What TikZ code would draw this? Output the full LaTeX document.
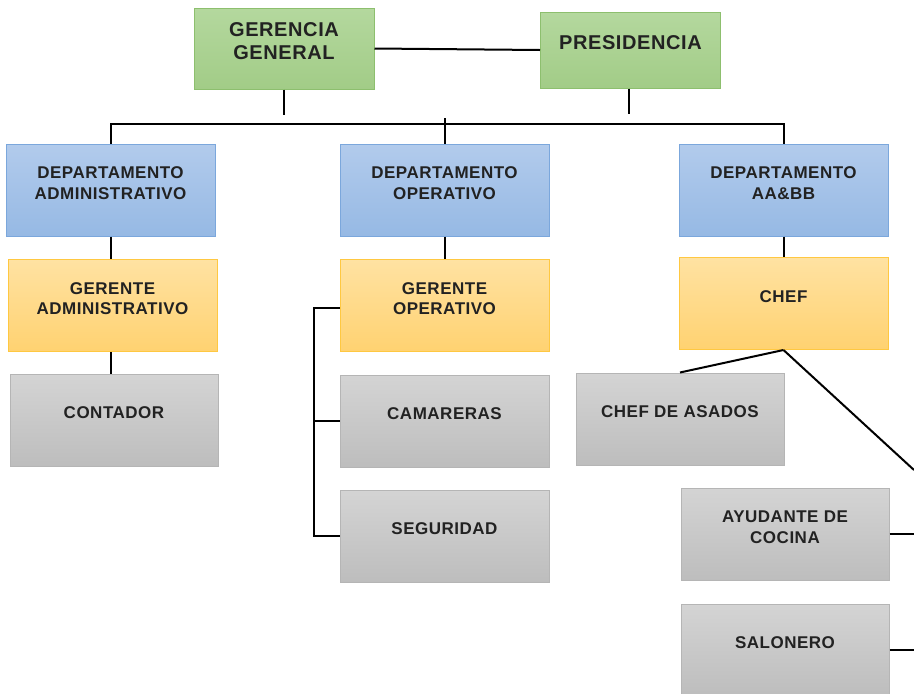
\documentclass[tikz,border=0pt]{standalone}
\usepackage{fontspec}
\setmainfont[LetterSpace=3]{Liberation Sans}
\usepackage{tikz}

\definecolor{txtdark}{HTML}{222222}
\definecolor{greentop}{HTML}{B4D89E}
\definecolor{greenbot}{HTML}{A2CC87}
\definecolor{greenline}{HTML}{8DBF6E}
\definecolor{bluetop}{HTML}{B2CBEC}
\definecolor{bluebot}{HTML}{96B9E4}
\definecolor{blueline}{HTML}{7BA7DC}
\definecolor{yellowtop}{HTML}{FFE2A2}
\definecolor{yellowbot}{HTML}{FFD271}
\definecolor{yellowline}{HTML}{FFC841}
\definecolor{graytop}{HTML}{D4D4D4}
\definecolor{graybot}{HTML}{BDBDBD}
\definecolor{grayline}{HTML}{B5B5B5}

\tikzset{
  orgbox/.style={rectangle, line width=1pt, align=center, text=txtdark,
    minimum width=209pt, minimum height=92pt, inner sep=2pt,
    font=\fontsize{17}{20.5}\selectfont\bfseries,
    execute at end node={\rule[-14pt]{0pt}{14pt}}},
  topbox/.style={orgbox, draw=greenline, top color=greentop, bottom color=greenbot,
    minimum width=180pt, font=\fontsize{20}{23}\selectfont\bfseries},
  deptbox/.style={orgbox, draw=blueline, top color=bluetop, bottom color=bluebot},
  headbox/.style={orgbox, draw=yellowline, top color=yellowtop, bottom color=yellowbot},
  staffbox/.style={orgbox, draw=grayline, top color=graytop, bottom color=graybot},
  link/.style={draw=black, line width=2pt}
}

\begin{document}
\begin{tikzpicture}[x=1pt,y=-1pt]
  \useasboundingbox (0,0) rectangle (914,694);
  \clip (0,0) rectangle (914,694);
  % top level
  \node[topbox, minimum height=81pt] (gg) at (284,48.5) {GERENCIA\\GENERAL};
  \node[topbox, minimum height=76pt] (pres) at (630.5,50) {PRESIDENCIA};
  % departments
  \node[deptbox] (da) at (110.5,190) {DEPARTAMENTO\\ADMINISTRATIVO};
  \node[deptbox] (dop) at (444.5,190) {DEPARTAMENTO\\OPERATIVO};
  \node[deptbox] (dab) at (783.5,190) {DEPARTAMENTO\\AA\&BB};
  % heads
  \node[headbox] (ga) at (112.5,305.5) {GERENTE\\ADMINISTRATIVO};
  \node[headbox] (go) at (444.5,305.5) {GERENTE\\OPERATIVO};
  \node[headbox] (chef) at (783.5,303.5) {CHEF};
  % staff
  \node[staffbox, minimum width=208pt] (cont) at (114,420) {CONTADOR};
  \node[staffbox] (cam) at (444.5,421) {CAMARERAS};
  \node[staffbox] (seg) at (444.5,536) {SEGURIDAD};
  \node[staffbox, minimum width=208pt] (asa) at (680,419) {CHEF DE ASADOS};
  \node[staffbox, minimum width=208pt] (ayu) at (785,534) {AYUDANTE DE\\COCINA};
  \node[staffbox, minimum width=208pt] (sal) at (785,650) {SALONERO};
  \coordinate (offright) at (914,470);

  % connectors
  \draw[link] (gg.east) -- (pres.west);
  \draw[link] (gg.south) -- ++(0,25);
  \draw[link] ([xshift=-2pt]pres.south) -- ++(0,25);
  \draw[link] (da.north) -- ++(0,-20) -| (dab.north);
  \draw[link] (dop.north) -- ++(0,-26);
  \draw[link] (da.south) -- (da.south |- ga.north);
  \draw[link] (dop.south) -- (go.north);
  \draw[link] (dab.south) -- (chef.north);
  \draw[link] (ga.south -| da.south) -- (da.south |- cont.north);
  \draw[link] ([yshift=-2pt]go.west) -- ++(-26,0) |- (seg.west);
  \draw[link] (cam.west) -- ++(-26,0);
  \draw[link] (chef.south) -- (asa.north);
  \draw[link] (chef.south) -- (offright);
  \draw[link] (ayu.east) -- ++(30,0);
  \draw[link] (sal.east) -- ++(30,0);
\end{tikzpicture}
\end{document}
